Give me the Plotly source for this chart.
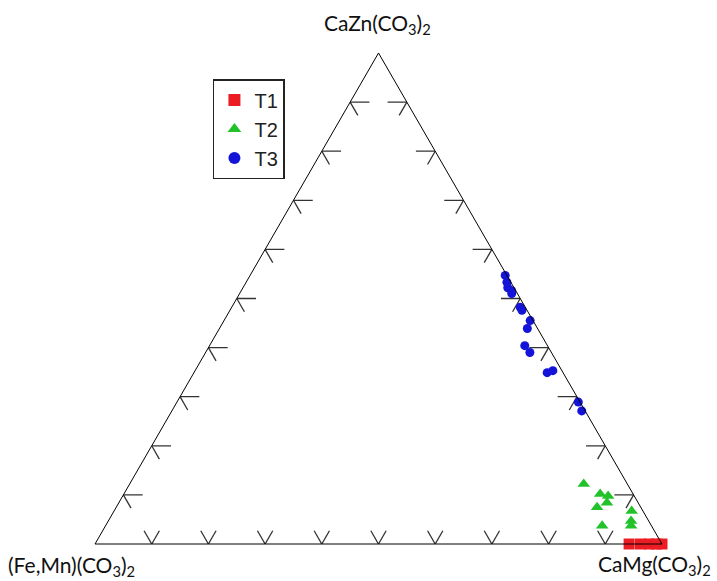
import plotly.graph_objects as go

# Corner end-members
A_LABEL = "CaZn(CO<sub>3</sub>)<sub>2</sub>"
B_LABEL = "(Fe,Mn)(CO<sub>3</sub>)<sub>2</sub>"
C_LABEL = "CaMg(CO<sub>3</sub>)<sub>2</sub>"

# Tick positions along every side (fractions)
TICK_VALUES = [0.1, 0.2, 0.3, 0.4, 0.5, 0.6, 0.7, 0.8, 0.9]

# T1 compositions (a = CaZn, b = (Fe,Mn), c = CaMg)
t1_a = [0.0, 0.0, 0.0, 0.0, 0.0]
t1_b = [0.058, 0.038, 0.022, 0.010, 0.0]
t1_c = [0.942, 0.962, 0.978, 0.990, 1.0]

# T2 compositions
t2_a = [0.122, 0.102, 0.098, 0.084, 0.075, 0.067, 0.047, 0.037, 0.037]
t2_b = [0.077, 0.058, 0.046, 0.055, 0.077, 0.020, 0.031, 0.036, 0.087]
t2_c = [0.801, 0.840, 0.856, 0.861, 0.848, 0.913, 0.922, 0.927, 0.876]

# T3 compositions
t3_a = [0.547, 0.533, 0.522, 0.516, 0.510, 0.482, 0.476, 0.455, 0.439,
        0.404, 0.390, 0.349, 0.353, 0.289, 0.271]
t3_b = [0.003, 0.007, 0.011, 0.007, 0.010, 0.009, 0.009, 0.005, 0.018,
        0.040, 0.038, 0.028, 0.016, 0.003, 0.006]
t3_c = [0.450, 0.460, 0.467, 0.477, 0.480, 0.509, 0.515, 0.540, 0.543,
        0.556, 0.572, 0.623, 0.631, 0.708, 0.723]

# Arm lengths of the tick marks (in composition units)
ARM_SIDE = 0.027    # arms parallel to the inclined sides
ARM_FLAT = 0.034    # arms parallel to the base

# Build tick marks: each one is two short arms running inward,
# parallel to the two other sides of the triangle.
ta, tb, tc = [], [], []


def seg(p, q):
    ta.extend([p[0], q[0], None])
    tb.extend([p[1], q[1], None])
    tc.extend([p[2], q[2], None])


for v in TICK_VALUES:
    # base (a = 0): V shape
    p = (0.0, v, 1 - v)
    seg(p, (ARM_SIDE, v - ARM_SIDE, 1 - v))
    seg(p, (ARM_SIDE, v, 1 - v - ARM_SIDE))
    # left side (c = 0): horizontal arm + arm parallel to the right side
    p = (v, 1 - v, 0.0)
    seg(p, (v, 1 - v - ARM_FLAT, ARM_FLAT))
    seg(p, (v - ARM_SIDE, 1 - v, ARM_SIDE))
    # right side (b = 0): horizontal arm + arm parallel to the left side
    p = (v, 0.0, 1 - v)
    seg(p, (v, ARM_FLAT, 1 - v - ARM_FLAT))
    seg(p, (v - ARM_SIDE, ARM_SIDE, 1 - v))

fig = go.Figure()

fig.add_trace(go.Scatterternary(
    a=ta, b=tb, c=tc, mode="lines",
    line=dict(color="#333333", width=1.3),
    showlegend=False, hoverinfo="skip", cliponaxis=False,
))

fig.add_trace(go.Scatterternary(
    a=t1_a, b=t1_b, c=t1_c, mode="markers", name="T1",
    marker=dict(symbol="square", size=11, color="#ec1c24"),
    cliponaxis=False,
))
fig.add_trace(go.Scatterternary(
    a=t2_a, b=t2_b, c=t2_c, mode="markers", name="T2",
    marker=dict(symbol="triangle-up", size=11, color="#22c32a"),
    cliponaxis=False,
))
fig.add_trace(go.Scatterternary(
    a=t3_a, b=t3_b, c=t3_c, mode="markers", name="T3",
    marker=dict(symbol="circle", size=9, color="#1414d8"),
    cliponaxis=False,
))

axis_style = dict(
    showticklabels=False, ticks="", showgrid=False,
    linecolor="black", linewidth=1, title=dict(text=""),
)

label_font = dict(family="Lato, sans-serif", size=21, color="#111111")

fig.update_layout(
    width=717, height=581,
    margin=dict(l=95, r=55, t=53, b=37),
    paper_bgcolor="white",
    plot_bgcolor="white",
    ternary=dict(
        sum=1,
        bgcolor="white",
        domain=dict(x=[0, 1], y=[0, 1]),
        aaxis=axis_style, baxis=axis_style, caxis=axis_style,
    ),
    legend=dict(
        x=0.208, y=0.947, xanchor="left", yanchor="top",
        bordercolor="#222222", borderwidth=1.5, bgcolor="white",
        font=dict(family="Liberation Sans, Arial, sans-serif", size=20, color="#222222"),
        itemsizing="constant",
    ),
    annotations=[
        dict(text=A_LABEL, xref="paper", yref="paper", x=0.499, y=1.059,
             showarrow=False, xanchor="center", yanchor="middle", font=label_font),
        dict(text=B_LABEL, xref="paper", yref="paper", x=-0.041, y=-0.045,
             showarrow=False, xanchor="center", yanchor="middle", font=label_font),
        dict(text=C_LABEL, xref="paper", yref="paper", x=0.986, y=-0.042,
             showarrow=False, xanchor="center", yanchor="middle", font=label_font),
    ],
)

fig.write_html("out.html")
